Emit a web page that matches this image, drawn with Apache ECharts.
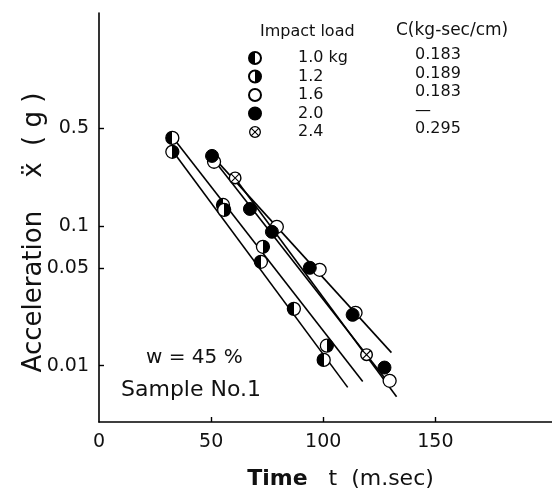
<!DOCTYPE html>
<html>
<head>
<meta charset="utf-8">
<script src="https://cdn.jsdelivr.net/npm/echarts@6/dist/echarts.min.js"></script>
<style>
html, body { margin: 0; padding: 0; background: #fff; }
#chart { width: 552px; height: 497px; }
</style>
</head>
<body>
<div id="chart"></div>
<script>
// values (time in ms, acceleration in g)
var loadNames = ['1.0 kg', '1.2', '1.6', '2.0', '2.4'];
var cValues = ['0.183', '0.189', '0.183', '—', '0.295'];
var xTicks = [0, 50, 100, 150];
var yTicks = [0.01, 0.05, 0.1, 0.5];

var load10 = [[32.7, 0.425], [55.3, 0.141], [72.2, 0.0553], [86.9, 0.0255], [100.2, 0.0110]];
var load12 = [[32.7, 0.338], [55.8, 0.130], [73.1, 0.0708], [101.6, 0.0139]];
var load16 = [[51.3, 0.287], [79.3, 0.0984], [98.4, 0.0485], [114.4, 0.0239], [129.6, 0.0078]];
var load20 = [[50.4, 0.316], [67.3, 0.132], [77.1, 0.0906], [94.0, 0.0501], [113.1, 0.0231], [127.3, 0.0097]];
var load24 = [[60.7, 0.220], [119.3, 0.0120]];

// fitted straight lines (start / end)
var fitLines = [
    [[33.1, 0.425], [117.6, 0.0077]],
    [[33.1, 0.338], [110.9, 0.0070]],
    [[50.9, 0.311], [130.4, 0.0124]],
    [[52.2, 0.282], [129.5, 0.0074]],
    [[60.2, 0.224], [132.7, 0.0060]]
];

var chart = echarts.init(document.getElementById('chart'), null, {renderer: 'canvas'});
var font = '"DejaVu Sans", sans-serif';

function halfFill(blackFirst) {
    var a = blackFirst ? '#000' : '#fff';
    var b = blackFirst ? '#fff' : '#000';
    return new echarts.graphic.LinearGradient(0, 0, 1, 0, [
        {offset: 0, color: a}, {offset: 0.5, color: a},
        {offset: 0.5, color: b}, {offset: 1, color: b}
    ]);
}

var crossPath = 'path://M0 10 A10 10 0 1 1 20 10 A10 10 0 1 1 0 10 Z ' +
    'M2.2 10 A7.8 7.8 0 1 0 17.8 10 A7.8 7.8 0 1 0 2.2 10 Z ' +
    'M3.8 5 L5 3.8 L16.2 15 L15 16.2 Z M15 3.8 L16.2 5 L5 16.2 L3.8 15 Z';

var markerSize = 13;
var series = [];

fitLines.forEach(function (f, i) {
    series.push({
        name: 'fit' + i,
        type: 'line',
        data: f,
        showSymbol: false,
        silent: true,
        z: 1,
        lineStyle: {color: '#000', width: 1.6}
    });
});

var pointSets = [load10, load12, load16, load20, load24];
var styles = [
    {symbol: 'circle', itemStyle: {color: halfFill(true), borderColor: '#000', borderWidth: 1.3, opacity: 1}},
    {symbol: 'circle', itemStyle: {color: halfFill(false), borderColor: '#000', borderWidth: 1.3, opacity: 1}},
    {symbol: 'circle', itemStyle: {color: '#fff', borderColor: '#000', borderWidth: 1.3, opacity: 1}},
    {symbol: 'circle', itemStyle: {color: '#000', borderColor: '#000', borderWidth: 1, opacity: 1}},
    {symbol: crossPath, itemStyle: {color: '#000', opacity: 1}}
];

// white backing under the crossed circles so the line does not show through
series.push({
    name: 'back24',
    type: 'scatter',
    data: load24,
    symbol: 'circle',
    symbolSize: markerSize - 1,
    silent: true,
    z: 2,
    itemStyle: {color: '#fff', opacity: 1}
});

pointSets.forEach(function (d, i) {
    series.push({
        name: loadNames[i],
        type: 'scatter',
        data: d,
        symbol: styles[i].symbol,
        symbolSize: markerSize,
        itemStyle: styles[i].itemStyle,
        z: 3
    });
});

var option = {
    animation: false,
    backgroundColor: '#fff',
    grid: {left: 99, right: 0, top: 13, bottom: 75},
    textStyle: {fontFamily: font, color: '#111'},
    legend: {
        data: loadNames,
        orient: 'vertical',
        left: 243,
        top: 45,
        itemWidth: 12,
        itemHeight: 12,
        itemGap: 2.5,
        selectedMode: false,
        textStyle: {fontFamily: font, fontSize: 16, color: '#111', padding: [0, 0, 0, 32]}
    },
    xAxis: {
        type: 'value',
        min: 0,
        max: 202,
        interval: 50,
        name: '{b|Time}   t  (m.sec)',
        nameLocation: 'middle',
        nameGap: 46,
        nameMoveOverlap: false,
        nameTextStyle: {
            fontFamily: font, fontSize: 22, color: '#111', padding: [0, 0, 0, 30],
            rich: {b: {fontFamily: font, fontSize: 22, fontWeight: 'bold', color: '#111'}}
        },
        axisLine: {lineStyle: {color: '#000', width: 1.6}},
        axisTick: {inside: true, length: 5, lineStyle: {color: '#000', width: 1.4}, customValues: [50, 100, 150]},
        axisLabel: {fontFamily: font, fontSize: 19, color: '#111', margin: 11, customValues: xTicks},
        splitLine: {show: false}
    },
    yAxis: {
        type: 'log',
        logBase: 10,
        min: 0.00396,
        max: 3.32,
        name: 'Acceleration    ẍ  ( g )',
        nameLocation: 'middle',
        nameRotate: 90,
        nameGap: 52,
        nameMoveOverlap: false,
        nameTextStyle: {fontFamily: font, fontSize: 26, color: '#111', padding: [0, 30, 0, 0]},
        axisLine: {lineStyle: {color: '#000', width: 1.6}},
        axisTick: {inside: true, length: 5, lineStyle: {color: '#000', width: 1.4}, customValues: yTicks},
        axisLabel: {
            fontFamily: font, fontSize: 19, color: '#111', margin: 10, customValues: yTicks,
            formatter: function (v) { return String(+v.toPrecision(2)); }
        },
        splitLine: {show: false}
    },
    graphic: [
        {type: 'text', left: 260, top: 24, style: {text: 'Impact load', font: '16px ' + font, fill: '#111'}},
        {type: 'text', left: 396, top: 22, style: {text: 'C(kg-sec/cm)', font: '17px ' + font, fill: '#111'}},
        {type: 'text', left: 415, top: 46, style: {text: cValues.join('\n'), font: '16px ' + font, fill: '#111', lineHeight: 18.5}},
        {type: 'text', left: 146, top: 348, style: {text: 'w = 45 %', font: '20px ' + font, fill: '#111'}},
        {type: 'text', left: 121, top: 379, style: {text: 'Sample No.1', font: '22px ' + font, fill: '#111'}}
    ],
    series: series
};

chart.setOption(option);
</script>
</body>
</html>
